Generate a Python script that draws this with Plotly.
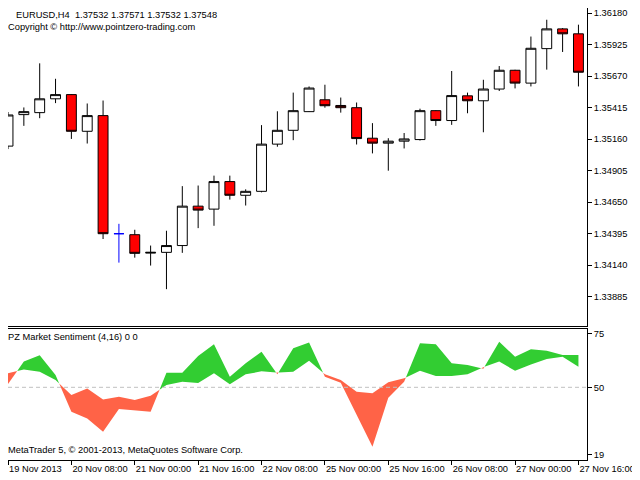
import plotly.graph_objects as go
from plotly.subplots import make_subplots

# EURUSD H4 bars, left to right (bar 0 is cut by the left edge)
opens = [1.35104, 1.35359, 1.35375, 1.35487, 1.35521, 1.35224, 1.35351, 1.34395, 1.34387, 1.34238,
         1.34244, 1.34299, 1.34618, 1.34594, 1.34817, 1.34706, 1.34738, 1.35120, 1.35232, 1.35383,
         1.35479, 1.35433, 1.35415, 1.35168, 1.35128, 1.35144, 1.35157, 1.35391, 1.35311, 1.35511,
         1.35471, 1.35566, 1.35718, 1.35614, 1.35893, 1.36053, 1.36013]
highs = [1.35380, 1.35417, 1.35774, 1.35649, 1.35525, 1.35449, 1.35473, 1.34475, 1.34427, 1.34299,
         1.34419, 1.34780, 1.34785, 1.34865, 1.34865, 1.34754, 1.35274, 1.35386, 1.35537, 1.35587,
         1.35601, 1.35497, 1.35457, 1.35290, 1.35168, 1.35210, 1.35407, 1.35395, 1.35712, 1.35537,
         1.35641, 1.35752, 1.35722, 1.35991, 1.36127, 1.36060, 1.36087]
lows = [1.35080, 1.35268, 1.35330, 1.35452, 1.35162, 1.35125, 1.34352, 1.34161, 1.34201, 1.34137,
        1.33946, 1.34240, 1.34440, 1.34459, 1.34671, 1.34623, 1.34730, 1.35099, 1.35152, 1.35380,
        1.35415, 1.35375, 1.35117, 1.35045, 1.34905, 1.35085, 1.35149, 1.35268, 1.35276, 1.35370,
        1.35216, 1.35550, 1.35571, 1.35587, 1.35723, 1.35866, 1.35587]
closes = [1.35356, 1.35383, 1.35487, 1.35521, 1.35224, 1.35351, 1.34395, 1.34395, 1.34236, 1.34244,
          1.34299, 1.34618, 1.34586, 1.34817, 1.34706, 1.34738, 1.35120, 1.35232, 1.35391, 1.35574,
          1.35431, 1.35415, 1.35165, 1.35128, 1.35144, 1.35162, 1.35391, 1.35311, 1.35513, 1.35471,
          1.35566, 1.35718, 1.35614, 1.35896, 1.36053, 1.36013, 1.35702]
cross_bar = 7  # the blue cross (open == close)

# PZ Market Sentiment (4,16): the two filled lines
sent_fast = [51.5, 61.9, 64.8, 55.7, 38.7, 35.6, 29.4, 40.0, 39.5, 38.7,
             56.8, 56.8, 64.5, 69.9, 54.9, 61.1, 66.5, 56.0, 68.1, 70.8,
             54.9, 52.1, 37.2, 22.5, 45.2, 52.6, 70.4, 70.0, 61.1, 60.3,
             58.6, 71.1, 64.2, 67.6, 66.9, 65.0, 65.0]
sent_slow = [56.5, 58.3, 57.2, 53.4, 46.4, 49.5, 44.4, 45.6, 44.1, 46.1,
             51.1, 52.6, 52.0, 56.5, 51.4, 56.0, 57.4, 56.8, 57.2, 62.3,
             56.0, 53.4, 48.0, 47.2, 52.3, 54.2, 57.7, 55.2, 55.2, 56.0,
             59.3, 61.9, 57.7, 60.6, 63.1, 64.2, 59.5]

price_ticks = [1.36180, 1.35925, 1.35670, 1.35415, 1.35160, 1.34905, 1.34650, 1.34395, 1.34140, 1.33885]
sent_ticks = [75, 50, 19]
time_tick_bars = [0, 4, 8, 12, 16, 20, 24, 28, 32, 36]
time_tick_text = ["19 Nov 2013", "20 Nov 08:00", "21 Nov 00:00", "21 Nov 16:00", "22 Nov 08:00",
                  "25 Nov 00:00", "25 Nov 16:00", "26 Nov 08:00", "27 Nov 00:00", "27 Nov 16:00"]

FONT = "Liberation Sans, Arial, sans-serif"
FS = 9.3
GREEN = "#32CD32"
RED = "#FF6347"

bars = list(range(len(opens)))


def filling_runs(xs, a, b):
    """Split two lines into runs where a>=b or a<b, closing each run at the crossing."""
    runs = []
    cur = None
    for i, x in enumerate(xs):
        up = a[i] >= b[i]
        if cur is None:
            cur = {"up": up, "x": [x], "a": [a[i]], "b": [b[i]]}
            continue
        if up != cur["up"]:
            d0 = a[i - 1] - b[i - 1]
            d1 = a[i] - b[i]
            t = d0 / (d0 - d1)
            xc = xs[i - 1] + t * (x - xs[i - 1])
            yc = a[i - 1] + t * (a[i] - a[i - 1])
            cur["x"].append(xc); cur["a"].append(yc); cur["b"].append(yc)
            runs.append(cur)
            cur = {"up": up, "x": [xc], "a": [yc], "b": [yc]}
        cur["x"].append(x); cur["a"].append(a[i]); cur["b"].append(b[i])
    runs.append(cur)
    return runs


fig = make_subplots(rows=2, cols=1, shared_xaxes=True)

keep = [i for i in bars if i != cross_bar]
fig.add_trace(
    go.Candlestick(
        x=[bars[i] for i in keep],
        open=[opens[i] for i in keep], high=[highs[i] for i in keep],
        low=[lows[i] for i in keep], close=[closes[i] for i in keep],
        increasing=dict(line=dict(color="black", width=1), fillcolor="white"),
        decreasing=dict(line=dict(color="black", width=1), fillcolor="#FF0000"),
        whiskerwidth=0, showlegend=False, hoverinfo="skip",
    ),
    row=1, col=1,
)
fig.add_trace(
    go.Candlestick(
        x=[bars[cross_bar]], open=[opens[cross_bar]], high=[highs[cross_bar]],
        low=[lows[cross_bar]], close=[closes[cross_bar]],
        increasing=dict(line=dict(color="#0000FF", width=1), fillcolor="#0000FF"),
        decreasing=dict(line=dict(color="#0000FF", width=1), fillcolor="#0000FF"),
        whiskerwidth=0, showlegend=False, hoverinfo="skip",
    ),
    row=1, col=1,
)

for run in filling_runs(bars, sent_fast, sent_slow):
    fig.add_trace(
        go.Scatter(
            x=run["x"] + run["x"][::-1], y=run["a"] + run["b"][::-1],
            mode="lines", fill="toself", fillcolor=GREEN if run["up"] else RED,
            line=dict(width=0, color=GREEN if run["up"] else RED),
            showlegend=False, hoverinfo="skip",
        ),
        row=2, col=1,
    )

fig.add_hline(y=50, line=dict(color="#C0C0C0", width=1, dash="4px,3px"), row=2, col=1)

axis_common = dict(showline=True, linecolor="black", linewidth=1, mirror=True,
                   showgrid=False, zeroline=False, automargin=False)
fig.update_xaxes(range=[0, 36.54], rangeslider_visible=False, **axis_common)
fig.update_xaxes(showticklabels=False, ticks="", row=1, col=1)
fig.update_xaxes(tickmode="array", tickvals=time_tick_bars, ticktext=time_tick_text,
                 ticks="outside", ticklen=4, tickcolor="black", tickangle=0,
                 ticklabelposition="outside right", row=2, col=1)
fig.update_yaxes(side="right", ticks="outside", ticklen=4, tickcolor="black", **axis_common)
fig.update_yaxes(range=[1.33648, 1.36222], tickmode="array", tickvals=price_ticks,
                 tickformat=".5f", domain=[0.2965, 1.0], row=1, col=1)
fig.update_yaxes(range=[16.34, 77.0], tickmode="array", tickvals=sent_ticks,
                 domain=[0.0, 0.2898], row=2, col=1)

texts = [
    ("x domain", "y domain", 1, "top", 6, 0, "EURUSD,H4  1.37532 1.37571 1.37532 1.37548"),
    ("x domain", "y domain", 1, "top", -2, -12, "Copyright © http://www.pointzero-trading.com"),
    ("x2 domain", "y2 domain", 1, "top", -2, -1, "PZ Market Sentiment (4,16) 0 0"),
    ("x2 domain", "y2 domain", 0, "bottom", -2, 3, "MetaTrader 5, © 2001-2013, MetaQuotes Software Corp."),
]
for xref, yref, y, yanchor, xshift, yshift, text in texts:
    fig.add_annotation(x=0, y=y, xref=xref, yref=yref, xanchor="left", yanchor=yanchor,
                       xshift=xshift, yshift=yshift, text=text, showarrow=False,
                       font=dict(family=FONT, size=FS, color="black"))

# the page adds an 8px body margin, so the figure is sized to fit the 640x480 window
fig.update_layout(
    width=632, height=472,
    margin=dict(l=0, r=53, t=0, b=20),
    paper_bgcolor="white", plot_bgcolor="white",
    font=dict(family=FONT, size=FS, color="black"),
    boxgap=0.375, boxgroupgap=0,
    showlegend=False,
)

fig.write_html("out.html")
